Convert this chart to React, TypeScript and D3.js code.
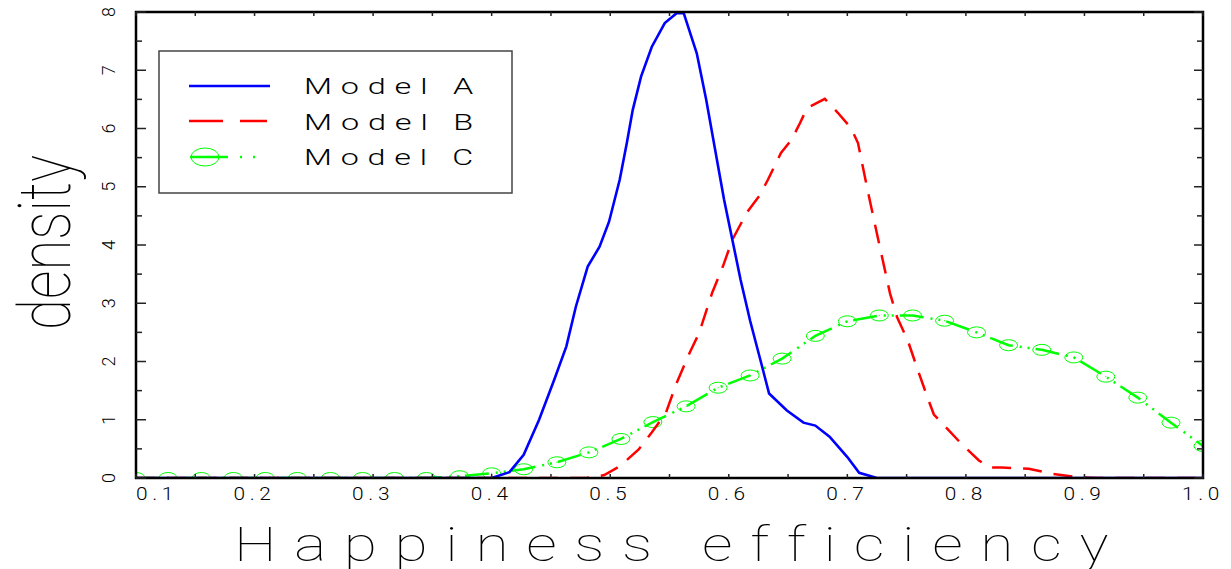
import React from 'react';
import * as d3 from 'd3';

// density curves: [x, density]
const modelA: [number, number][] = [
  [0.1, 0], [0.4, 0], [0.415, 0.1], [0.427, 0.4], [0.44, 1.0], [0.453, 1.7], [0.463, 2.26],
  [0.471, 2.94], [0.481, 3.63], [0.491, 3.97], [0.499, 4.4], [0.508, 5.12], [0.514, 5.75],
  [0.519, 6.32], [0.526, 6.89], [0.535, 7.4], [0.546, 7.81], [0.556, 7.98], [0.562, 7.98],
  [0.573, 7.29], [0.581, 6.49], [0.588, 5.69], [0.596, 4.78], [0.603, 4.09], [0.61, 3.4],
  [0.618, 2.7], [0.627, 2.0], [0.634, 1.45], [0.649, 1.16], [0.663, 0.95], [0.673, 0.9],
  [0.685, 0.71], [0.7, 0.36], [0.71, 0.09], [0.725, 0], [1.0, 0],
];

const modelB: [number, number][] = [
  [0.1, 0], [0.48, 0], [0.495, 0.05], [0.508, 0.2], [0.524, 0.49], [0.535, 0.78], [0.547, 1.12],
  [0.556, 1.63], [0.567, 2.15], [0.575, 2.49], [0.586, 3.18], [0.595, 3.63], [0.603, 4.09],
  [0.615, 4.55], [0.626, 4.85], [0.633, 5.12], [0.644, 5.58], [0.653, 5.81], [0.66, 6.09],
  [0.666, 6.35], [0.681, 6.51], [0.692, 6.27], [0.703, 6.01], [0.709, 5.75], [0.717, 4.95],
  [0.726, 4.1], [0.736, 3.17], [0.742, 2.76], [0.751, 2.36], [0.759, 1.88], [0.768, 1.36],
  [0.773, 1.09], [0.785, 0.83], [0.797, 0.57], [0.811, 0.3], [0.82, 0.18], [0.83, 0.18],
  [0.853, 0.16], [0.873, 0.07], [0.895, 0.01], [0.91, 0], [1.0, 0],
];

const modelC: [number, number][] = [
  [0.1, 0], [0.127, 0], [0.155, 0], [0.182, 0], [0.209, 0], [0.236, 0], [0.264, 0],
  [0.291, 0], [0.318, 0], [0.345, 0], [0.373, 0.03], [0.4, 0.08], [0.427, 0.15],
  [0.455, 0.27], [0.482, 0.44], [0.509, 0.67], [0.536, 0.96], [0.564, 1.23], [0.591, 1.55],
  [0.618, 1.76], [0.645, 2.05], [0.673, 2.44], [0.7, 2.69], [0.727, 2.79], [0.755, 2.79],
  [0.782, 2.7], [0.809, 2.5], [0.836, 2.28], [0.864, 2.2], [0.891, 2.07], [0.918, 1.74],
  [0.945, 1.38], [0.973, 0.95], [1.0, 0.55],
];

const legendLabels = ['Model A', 'Model B', 'Model C'];
const xTickValues = [0.1, 0.2, 0.3, 0.4, 0.5, 0.6, 0.7, 0.8, 0.9, 1.0];
const xMinorTicks = d3.range(0.1, 1.0001, 0.05);
const yTickValues = [0, 1, 2, 3, 4, 5, 6, 7, 8];
const yMinorTicks = d3.range(0.5, 8, 1);

const W = 1231;
const H = 569;
const left = 136;
const right = 1203;
const top = 12;
const bottom = 478;
const font = 'Roboto, "DejaVu Sans", sans-serif';
const noLig = { fontVariantLigatures: 'none' as const };

const App = () => {
  const x = d3.scaleLinear().domain([0.1, 1.0]).range([left, right]);
  const y = d3.scaleLinear().domain([0, 8]).range([bottom, top]);

  const line = d3.line<[number, number]>()
    .x(d => x(d[0]))
    .y(d => y(d[1]));

  return (
    <svg width={W} height={H} style={{ position: 'absolute', left: 0, top: 0, background: '#fff' }}>
      <defs>
        <clipPath id="plot">
          <rect x={left} y={top} width={right - left} height={bottom - top} />
        </clipPath>
      </defs>

      {/* curves */}
      <g clipPath="url(#plot)">
        <path d={line(modelC) || ''} fill="none" stroke="#00ff00" strokeWidth={2.5}
          strokeDasharray="24 7 2 6 2 6" />
        {modelC.map((d, i) => (
          <g key={i}>
            <ellipse cx={x(d[0])} cy={y(d[1])} rx={9} ry={5.5} fill="none" stroke="#00ff00" strokeWidth={1} />
            <rect x={x(d[0]) - 0.5} y={y(d[1]) - 0.5} width={1} height={1} fill="#00ff00" />
          </g>
        ))}
        <path d={line(modelB) || ''} fill="none" stroke="#ff0000" strokeWidth={2.5}
          strokeDasharray="19 12" />
        <path d={line(modelA) || ''} fill="none" stroke="#0000ff" strokeWidth={2.6} />
      </g>

      {/* frame */}
      <rect x={left} y={top} width={right - left} height={bottom - top} fill="none" stroke="#000" strokeWidth={2.5} />

      {/* x ticks: bottom and top, pointing inward */}
      {xMinorTicks.map((t, i) => (
        <g key={i} stroke="#222" strokeWidth={1.5}>
          <line x1={x(t)} x2={x(t)} y1={bottom} y2={bottom - 4} />
          <line x1={x(t)} x2={x(t)} y1={top} y2={top + 4} />
        </g>
      ))}
      {xTickValues.map((t, i) => (
        <text key={i} x={x(t)} y={500}
          textAnchor={i === 0 ? 'start' : 'middle'}
          textLength={42} lengthAdjust="spacingAndGlyphs" letterSpacing={4}
          fontFamily={font} fontWeight={300} fontSize={18} fill="#000">
          {t.toFixed(1)}
        </text>
      ))}

      {/* y ticks: left and right, pointing inward */}
      {yTickValues.map((t, i) => (
        <g key={i} stroke="#222" strokeWidth={1.5}>
          <line x1={left} x2={left + 10} y1={y(t)} y2={y(t)} />
          <line x1={right} x2={right - 9} y1={y(t)} y2={y(t)} />
        </g>
      ))}
      {yMinorTicks.map((t, i) => (
        <g key={i} stroke="#222" strokeWidth={1.5}>
          <line x1={left} x2={left + 6} y1={y(t)} y2={y(t)} />
          <line x1={right} x2={right - 6} y1={y(t)} y2={y(t)} />
        </g>
      ))}
      {yTickValues.map((t, i) => (
        <text key={i} transform={`translate(115,${y(t)}) rotate(-90)`} textAnchor="middle"
          fontFamily={font} fontWeight={300} fontSize={18} fill="#000">
          {t}
        </text>
      ))}

      {/* axis titles */}
      <text x={234} y={561} textLength={892} lengthAdjust="spacingAndGlyphs" letterSpacing={14}
        style={noLig} fontFamily={font} fontWeight={100} fontSize={48} fill="#000">
        Happiness efficiency
      </text>
      <text transform="translate(70,330) rotate(-90)" textLength={175} lengthAdjust="spacingAndGlyphs"
        fontFamily={font} fontWeight={100} fontSize={72} fill="#000">
        density
      </text>

      {/* legend */}
      <rect x={159} y={51} width={353} height={142} fill="#fff" stroke="#444" strokeWidth={1.5} />
      <line x1={189} x2={270} y1={86} y2={86} stroke="#0000ff" strokeWidth={2.5} />
      <line x1={189} x2={267} y1={121} y2={121} stroke="#ff0000" strokeWidth={2.5} strokeDasharray="34 17" />
      <line x1={190} x2={262} y1={157} y2={157} stroke="#00ff00" strokeWidth={2.5} strokeDasharray="38 12 2 11 2 20" />
      <ellipse cx={205} cy={157} rx={14} ry={9} fill="none" stroke="#00ff00" strokeWidth={1} />
      {legendLabels.map((s, i) => (
        <text key={s} x={304} y={94 + i * 35.5} textLength={178} lengthAdjust="spacingAndGlyphs" letterSpacing={6}
          fontFamily={font} fontWeight={300} fontSize={22} fill="#000">
          {s}
        </text>
      ))}
    </svg>
  );
};

export default App;
